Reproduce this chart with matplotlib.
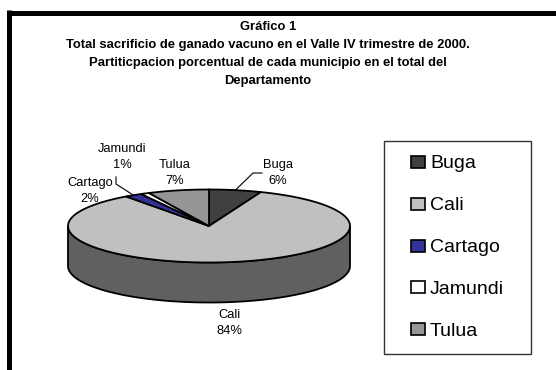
import numpy as np
import matplotlib
matplotlib.use("Agg")
import matplotlib.pyplot as plt
from matplotlib.patches import Polygon, Rectangle

plt.rcParams['font.family'] = ['Liberation Sans', 'DejaVu Sans']

# Participacion porcentual por municipio
municipios = ['Buga', 'Cali', 'Cartago', 'Jamundi', 'Tulua']
porcentajes = [6, 84, 2, 1, 7]
colores = ['#404040', '#c0c0c0', '#333399', '#ffffff', '#969696']
colores_lado = ['#202020', '#606060', '#1a1a4d', '#808080', '#4b4b4b']

titulo = ('Gráfico 1\n'
          'Total sacrificio de ganado vacuno en el Valle IV trimestre de 2000.\n'
          'Partiticpacion porcentual de cada municipio en el total del\n'
          'Departamento')

W, H = 556, 370
fig = plt.figure(figsize=(W / 100, H / 100), dpi=100)
ax = fig.add_axes([0, 0, 1, 1])
ax.set_xlim(0, W)
ax.set_ylim(H, 0)
ax.axis('off')

# marco grueso superior e izquierdo
ax.plot([8.5, W + 5], [12.5, 12.5], color='black', lw=3.6, solid_capstyle='butt')
ax.plot([8.5, 8.5], [10, H + 5], color='black', lw=3.6, solid_capstyle='butt')

fig.text(268 / W, 1 - 54 / H, titulo, ha='center', va='center',
         fontsize=9.4, fontweight='bold', linespacing=1.66)

# pastel 3D: elipse superior + pared frontal
cx, cy, rx, ry, prof = 209, 226, 141, 36.5, 40
fr = np.array(porcentajes) / sum(porcentajes)
bordes = 90 - 360 * np.concatenate([[0], np.cumsum(fr)])


def punto(t):
    r = np.radians(t)
    return cx + rx * np.cos(r), cy - ry * np.sin(r)


# pared lateral (solo la mitad frontal, 180..360 grados)
for i in range(len(municipios)):
    a0, a1 = bordes[i + 1], bordes[i]
    for k in (-360, 0, 360):
        lo = max(a0 + k, 180)
        hi = min(a1 + k, 360)
        if hi > lo:
            t = np.linspace(lo, hi, 120)
            xs, ys = punto(t)
            poly = np.vstack([np.column_stack([xs, ys]),
                              np.column_stack([xs[::-1], ys[::-1] + prof])])
            ax.add_patch(Polygon(poly, closed=True, facecolor=colores_lado[i],
                                 edgecolor='black', lw=1.3, zorder=2))

# caras superiores
for i in range(len(municipios)):
    t = np.linspace(bordes[i], bordes[i + 1], 200)
    xs, ys = punto(t)
    poly = np.vstack([[cx, cy], np.column_stack([xs, ys])])
    ax.add_patch(Polygon(poly, closed=True, facecolor=colores[i],
                         edgecolor='black', lw=1.3, joinstyle='miter', zorder=3))

# etiquetas de datos
pos_etiquetas = {'Buga': (278, 173), 'Cali': (229, 323), 'Cartago': (90, 191),
                 'Jamundi': (122, 157), 'Tulua': (175, 173)}
for nombre, p in zip(municipios, porcentajes):
    x, y = pos_etiquetas[nombre]
    ax.text(x, y, f'{nombre}\n{p}%', ha='center', va='center', fontsize=9.3,
            linespacing=1.45, zorder=5)

# lineas guia
medio = (bordes[:-1] + bordes[1:]) / 2
bx, by = punto(medio[0])
ax.plot([bx, 253, 262], [by, 173, 173], color='black', lw=0.8, zorder=4)
kx, ky = punto(medio[2])
ax.plot([116, 116, kx], [177, 184, ky], color='black', lw=0.8, zorder=4)

# leyenda
lx0, ly0, lx1, ly1 = 384, 141, 531, 354
ax.add_patch(Rectangle((lx0, ly0), lx1 - lx0, ly1 - ly0, facecolor='white',
                       edgecolor='#333333', lw=1.0, zorder=1))
paso = 41.8
for i, (nombre, c) in enumerate(zip(municipios, colores)):
    yc = 162 + i * paso
    ax.add_patch(Rectangle((411, yc - 6), 14, 12, facecolor=c,
                           edgecolor='black', lw=1.2, zorder=4))
    ax.text(430, yc + 6.5, nombre, ha='left', va='baseline', fontsize=14,
            zorder=4)

fig.savefig('out.png', dpi=100, facecolor='white')
